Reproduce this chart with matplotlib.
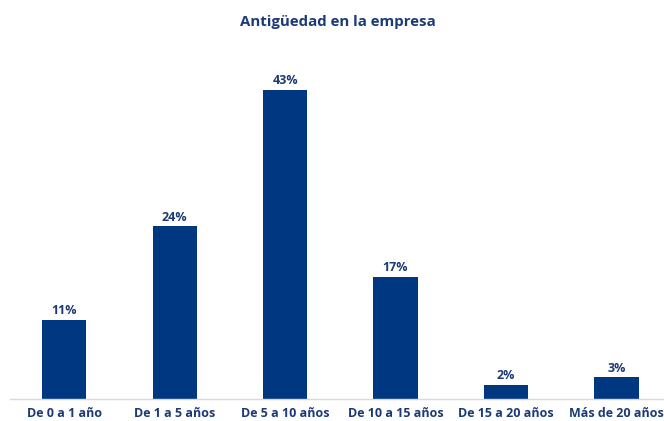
import matplotlib.pyplot as plt
import numpy as np

categories = ["De 0 a 1 año", "De 1 a 5 años", "De 5 a 10 años",
              "De 10 a 15 años", "De 15 a 20 años", "Más de 20 años"]
values = [11, 24, 43, 17, 2, 3]

bar_color = "#003781"
text_color = "#1c3a78"

plt.rcParams['font.family'] = ['Open Sans', 'DejaVu Sans']

fig = plt.figure(figsize=(6.64, 4.21), dpi=100)
ax = fig.add_axes([10 / 664, 22 / 421, 654 / 664, (399 - 39.5) / 421])

x = np.arange(len(categories))
bars = ax.bar(x, values, width=0.4, color=bar_color)

for xi, v in zip(x, values):
    ax.text(xi, v + 0.4, f"{v}%", ha="center", va="bottom",
            fontsize=9, fontweight="bold", color=text_color)

ax.set_xlim(-0.49, 5.43)
ax.set_ylim(0, 50)
ax.set_xticks(x)
ax.set_xticklabels(categories, fontsize=9, fontweight="bold", color=text_color)
ax.tick_params(axis="x", length=0, pad=6)
ax.set_yticks([])

for side in ["left", "right", "top"]:
    ax.spines[side].set_visible(False)
ax.spines["bottom"].set_color("#d9d9d9")
ax.spines["bottom"].set_linewidth(1)

fig.text(338 / 664, 1 - 22 / 421, "Antigüedad en la empresa", ha="center", va="center",
         fontsize=10.8, fontweight="bold", color=text_color)

fig.savefig("out.png", dpi=100)
